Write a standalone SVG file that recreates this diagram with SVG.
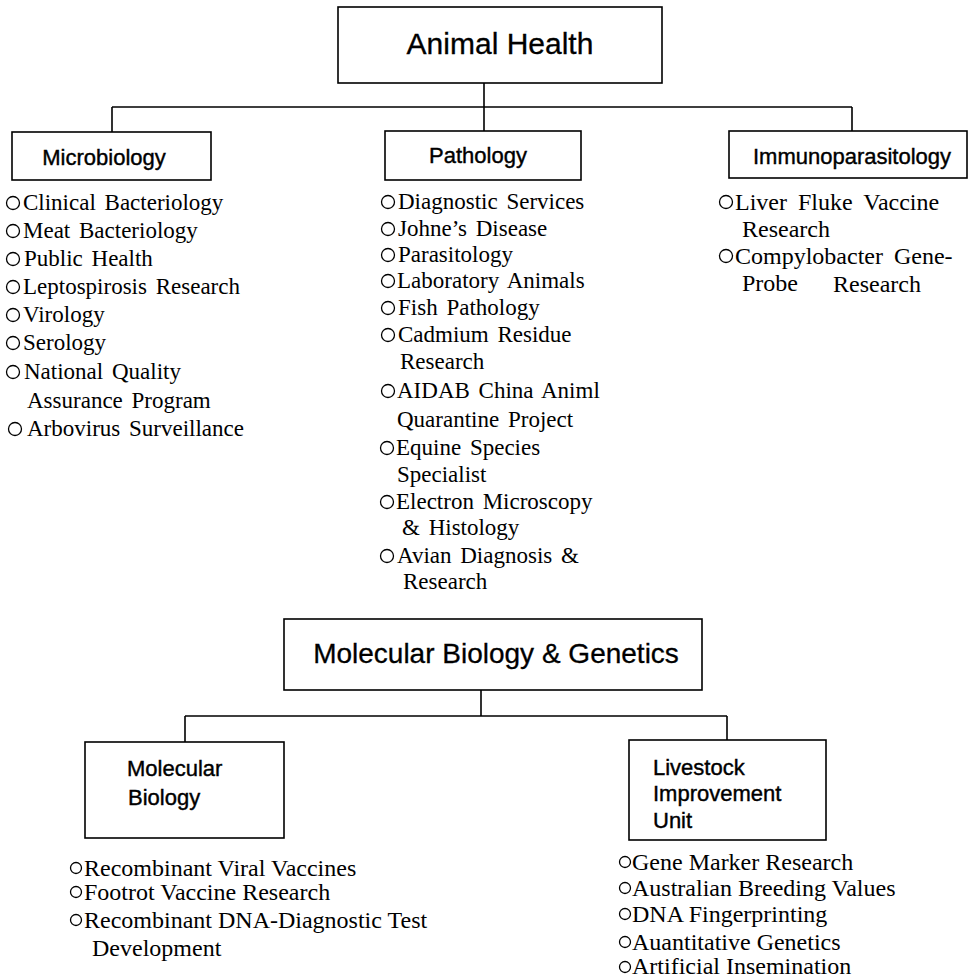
<svg xmlns="http://www.w3.org/2000/svg" width="974" height="980" viewBox="0 0 974 980">
<style>
.box{fill:#fff;stroke:#000;stroke-width:1.6}
.ln{fill:none;stroke:#000;stroke-width:1.6}
.h1{font-family:"Liberation Sans",Arial,sans-serif;font-size:30px;fill:#000;stroke:#000;stroke-width:0.3}
.h2{font-family:"Liberation Sans",Arial,sans-serif;font-size:22px;fill:#000;stroke:#000;stroke-width:0.4}
.it{font-family:"Liberation Serif","Times New Roman",serif;font-size:23px;fill:#000;word-spacing:3px}
.im{font-family:"Liberation Serif","Times New Roman",serif;font-size:24px;fill:#000;word-spacing:5px}
.lo{font-family:"Liberation Serif","Times New Roman",serif;font-size:24px;fill:#000}
.bl{fill:none;stroke:#000;stroke-width:1.3}
</style>
<rect width="974" height="980" fill="#fff"/>
<g id="connectors">
<path class="ln" d="M484,83 V131 M112,107 H852 M112,107 V132 M852,107 V131"/>
<path class="ln" d="M481,690 V716 M185,716 H727 M185,716 V742 M727,716 V740"/>
</g>
<g id="animal-health">
<rect class="box" x="338" y="7" width="324" height="76"/>
<text class="h1" x="500" y="54" text-anchor="middle">Animal Health</text>
</g>
<g id="microbiology">
<rect class="box" x="12" y="132" width="199" height="48"/>
<text class="h2" x="104" y="165" text-anchor="middle">Microbiology</text>
<g class="bl"><circle cx="13" cy="203" r="6.5"/><circle cx="13" cy="231" r="6.5"/><circle cx="13" cy="259" r="6.5"/><circle cx="13" cy="287" r="6.5"/><circle cx="13" cy="315" r="6.5"/><circle cx="13" cy="343" r="6.5"/><circle cx="13" cy="372" r="6.5"/><circle cx="15" cy="429" r="6.5"/></g>
<text class="it" x="23" y="210">Clinical Bacteriology</text>
<text class="it" x="23" y="238">Meat Bacteriology</text>
<text class="it" x="24" y="266">Public Health</text>
<text class="it" x="23" y="294">Leptospirosis Research</text>
<text class="it" x="23" y="322">Virology</text>
<text class="it" x="23" y="350">Serology</text>
<text class="it" x="24" y="379">National Quality</text>
<text class="it" x="27" y="408">Assurance Program</text>
<text class="it" x="27" y="436">Arbovirus Surveillance</text>
</g>
<g id="pathology">
<rect class="box" x="385" y="131" width="196" height="49"/>
<text class="h2" x="478" y="163" text-anchor="middle">Pathology</text>
<g class="bl"><circle cx="388" cy="202" r="6.5"/><circle cx="388" cy="229" r="6.5"/><circle cx="388" cy="255" r="6.5"/><circle cx="388" cy="281" r="6.5"/><circle cx="388" cy="308" r="6.5"/><circle cx="388" cy="335" r="6.5"/><circle cx="388" cy="391" r="6.5"/><circle cx="387" cy="448" r="6.5"/><circle cx="387" cy="502" r="6.5"/><circle cx="387" cy="556" r="6.5"/></g>
<text class="it" x="398" y="209">Diagnostic Services</text>
<text class="it" x="398" y="236">Johne’s Disease</text>
<text class="it" x="398" y="262">Parasitology</text>
<text class="it" x="397" y="288">Laboratory Animals</text>
<text class="it" x="398" y="315">Fish Pathology</text>
<text class="it" x="398" y="342">Cadmium Residue</text>
<text class="it" x="400" y="369">Research</text>
<text class="it" x="397" y="398">AIDAB China Animl</text>
<text class="it" x="397" y="427">Quarantine Project</text>
<text class="it" x="396" y="455">Equine Species</text>
<text class="it" x="397" y="482">Specialist</text>
<text class="it" x="396" y="509">Electron Microscopy</text>
<text class="it" x="402" y="535">&amp; Histology</text>
<text class="it" x="397" y="563">Avian Diagnosis &amp;</text>
<text class="it" x="403" y="589">Research</text>
</g>
<g id="immunoparasitology">
<rect class="box" x="729" y="131" width="238" height="47"/>
<text class="h2" x="852" y="164" text-anchor="middle">Immunoparasitology</text>
<g class="bl"><circle cx="726" cy="202" r="6.5"/><circle cx="726" cy="256" r="6.5"/></g>
<text class="im" x="735" y="210">Liver Fluke Vaccine</text>
<text class="im" x="742" y="237">Research</text>
<text class="im" x="735" y="264">Compylobacter Gene-</text>
<text class="im" x="742" y="291">Probe</text>
<text class="im" x="833" y="292">Research</text>
</g>
<g id="molecular-biology-genetics">
<rect class="box" x="284" y="619" width="418" height="71"/>
<text class="h1" x="496" y="663" text-anchor="middle" style="font-size:28px">Molecular Biology &amp; Genetics</text>
</g>
<g id="molecular-biology">
<rect class="box" x="85" y="742" width="199" height="96"/>
<text class="h2" x="127" y="776">Molecular</text>
<text class="h2" x="128" y="805">Biology</text>
<g class="bl"><circle cx="76" cy="868" r="5.5"/><circle cx="76" cy="892" r="5.5"/><circle cx="76" cy="920" r="5.5"/></g>
<text class="lo" x="84" y="876">Recombinant Viral Vaccines</text>
<text class="lo" x="84" y="900">Footrot Vaccine Research</text>
<text class="lo" x="84" y="928">Recombinant DNA-Diagnostic Test</text>
<text class="lo" x="92" y="956">Development</text>
</g>
<g id="livestock-improvement-unit">
<rect class="box" x="629" y="740" width="197" height="100"/>
<text class="h2" x="653" y="775">Livestock</text>
<text class="h2" x="653" y="801">Improvement</text>
<text class="h2" x="653" y="828">Unit</text>
<g class="bl"><circle cx="625" cy="862" r="5.5"/><circle cx="625" cy="888" r="5.5"/><circle cx="625" cy="914" r="5.5"/><circle cx="625" cy="942" r="5.5"/><circle cx="625" cy="967" r="5.5"/></g>
<text class="lo" x="632" y="870">Gene Marker Research</text>
<text class="lo" x="632" y="896">Australian Breeding Values</text>
<text class="lo" x="632" y="922">DNA Fingerprinting</text>
<text class="lo" x="632" y="950">Auantitative Genetics</text>
<text class="lo" x="632" y="974">Artificial Insemination</text>
</g>
</svg>
